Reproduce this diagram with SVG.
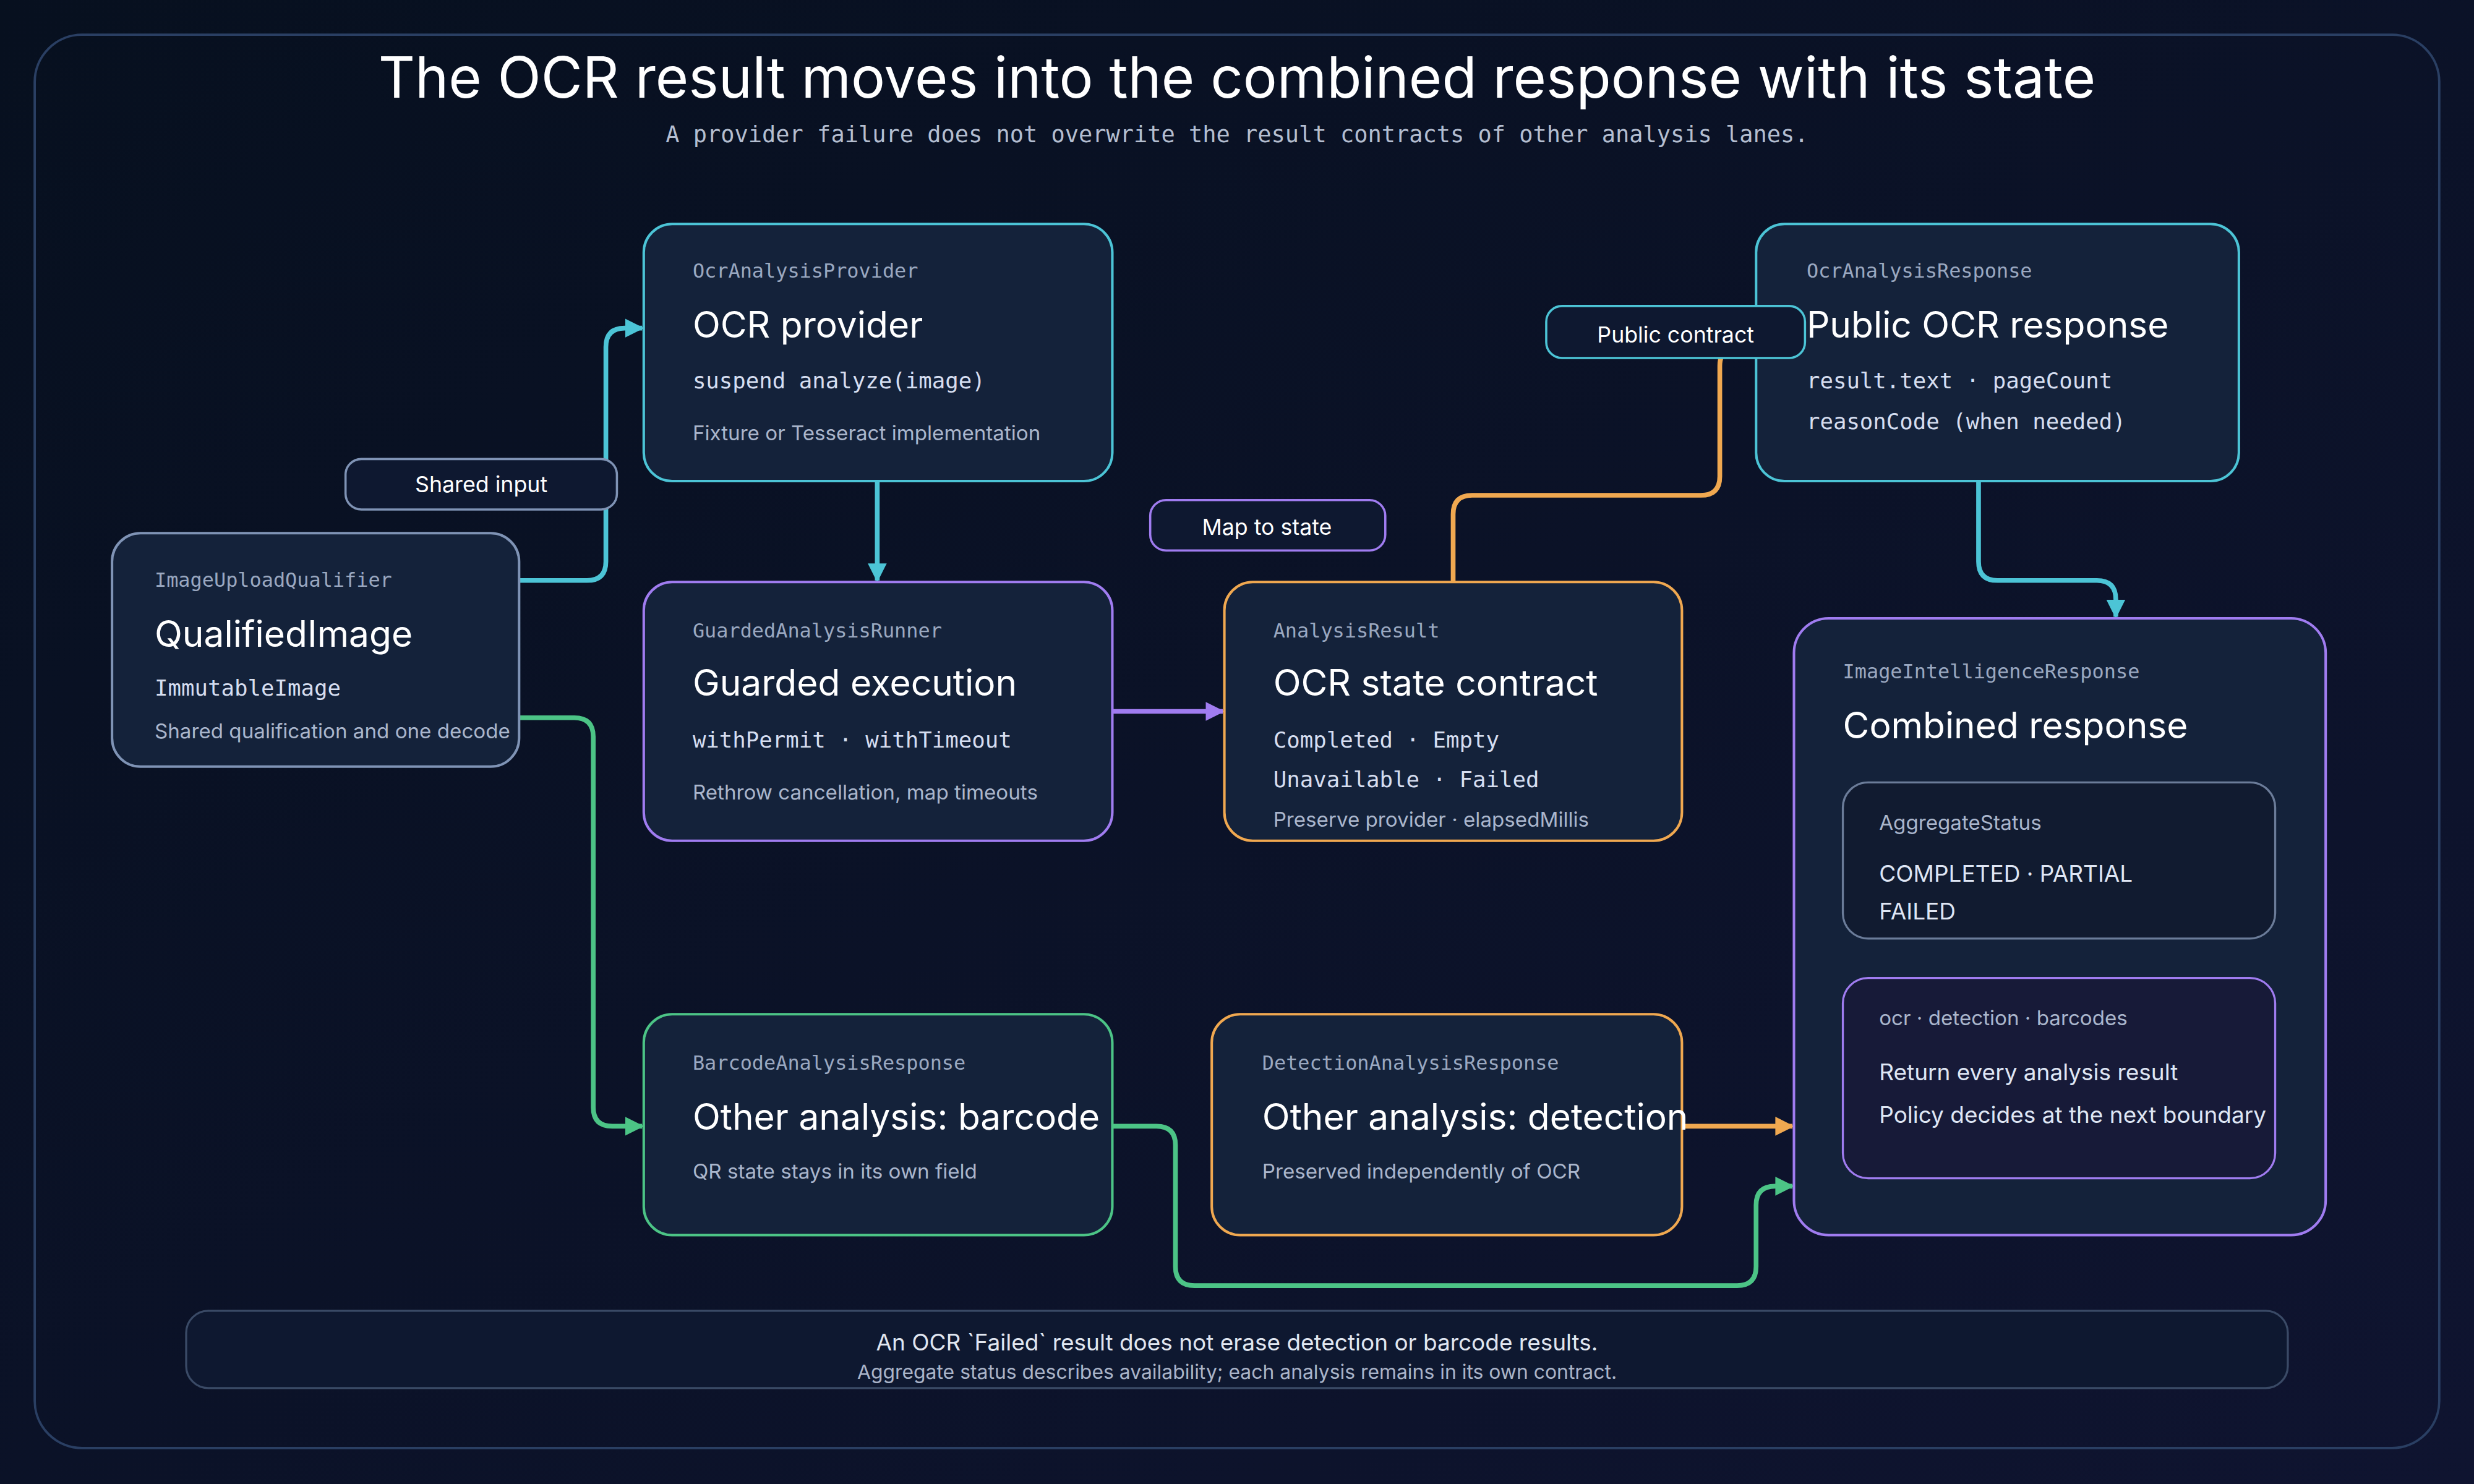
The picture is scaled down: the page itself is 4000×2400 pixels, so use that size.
<svg xmlns="http://www.w3.org/2000/svg" width="4000" height="2400" viewBox="0 0 4000 2400">
<defs>
<linearGradient id="bg" x1="0" y1="0" x2="1" y2="1"><stop offset="0" stop-color="#07101f"/><stop offset="1" stop-color="#0f1430"/></linearGradient>
<marker id="mc" viewBox="0 0 10 10" refX="9" refY="5" markerWidth="4" markerHeight="4" orient="auto"><path d="M0 0L10 5L0 10z" fill="#4cc4d6"/></marker>
<marker id="mp" viewBox="0 0 10 10" refX="9" refY="5" markerWidth="4" markerHeight="4" orient="auto"><path d="M0 0L10 5L0 10z" fill="#a07cf0"/></marker>
<marker id="mg" viewBox="0 0 10 10" refX="9" refY="5" markerWidth="4" markerHeight="4" orient="auto"><path d="M0 0L10 5L0 10z" fill="#4cc486"/></marker>
<marker id="mo" viewBox="0 0 10 10" refX="9" refY="5" markerWidth="4" markerHeight="4" orient="auto"><path d="M0 0L10 5L0 10z" fill="#f0a850"/></marker>
<style>
.node{fill:#14223a;stroke-width:1.6}
.cy{stroke:#4cc4d6}.pu{stroke:#a07cf0}.gr{stroke:#4cc486}.or{stroke:#f0a850}.gy{stroke:#7f93b5}
.lbl{font-family:"DejaVu Sans Mono","Liberation Mono",monospace;font-size:12.5px;fill:#9aa8c0}
.ttl{font-family:Inter,"Liberation Sans",sans-serif;font-size:23px;fill:#ffffff}
.mono{font-family:"DejaVu Sans Mono","Liberation Mono",monospace;font-size:14px;fill:#d6def0}
.sm{font-family:Inter,"Liberation Sans",sans-serif;font-size:13px;fill:#aab6cc}
.body{font-family:Inter,"Liberation Sans",sans-serif;font-size:14.5px;fill:#dfe6f4}
.pill{fill:#0e1830;stroke-width:1.4}
.pt{font-family:Inter,"Liberation Sans",sans-serif;font-size:14px;fill:#ffffff;text-anchor:middle}
.c{fill:none;stroke-width:3}
</style>
</defs>
<rect width="4000" height="2400" fill="url(#bg)"/>
<g transform="scale(2.551)">
<rect x="22" y="22" width="1524" height="896" rx="30" fill="none" stroke="#2a3f63" stroke-width="1.5"/>
<text x="784" y="62" text-anchor="middle" font-family="Inter,'Liberation Sans',sans-serif" font-size="36" fill="#ffffff">The OCR result moves into the combined response with its state</text>
<text x="784" y="90" text-anchor="middle" font-family="'DejaVu Sans Mono','Liberation Mono',monospace" font-size="14.5" fill="#b4bed0">A provider failure does not overwrite the result contracts of other analysis lanes.</text>

<g id="connectors">
<path class="c" stroke="#4cc4d6" marker-end="url(#mc)" d="M329 368H372Q384 368 384 356V220Q384 208 396 208H407"/>
<path class="c" stroke="#4cc4d6" marker-end="url(#mc)" d="M556 305V368"/>
<path class="c" stroke="#a07cf0" marker-end="url(#mp)" d="M705 451H775"/>
<path class="c" stroke="#4cc486" marker-end="url(#mg)" d="M329 455H364Q376 455 376 467V702Q376 714 388 714H407"/>
<path class="c" stroke="#f0a850" marker-end="url(#mo)" d="M921 369V326Q921 314 933 314H1078Q1090 314 1090 302V232Q1090 220 1102 220H1112"/>
<path class="c" stroke="#4cc4d6" marker-end="url(#mc)" d="M1254 305V356Q1254 368 1266 368H1329Q1341 368 1341 380V391"/>
<path class="c" stroke="#f0a850" marker-end="url(#mo)" d="M1066 714H1136"/>
<path class="c" stroke="#4cc486" marker-end="url(#mg)" d="M705 714H733Q745 714 745 726V803Q745 815 757 815H1101Q1113 815 1113 803V764Q1113 752 1125 752H1136"/>
</g>

<g id="qualifier">
<rect class="node gy" x="71" y="338" width="258" height="148" rx="18"/>
<text class="lbl" x="98" y="372">ImageUploadQualifier</text>
<text class="ttl" x="98" y="410">QualifiedImage</text>
<text class="mono" x="98" y="441">ImmutableImage</text>
<text class="sm" x="98" y="468">Shared qualification and one decode</text>
</g>
<g id="provider">
<rect class="node cy" x="408" y="142" width="297" height="163" rx="18"/>
<text class="lbl" x="439" y="176">OcrAnalysisProvider</text>
<text class="ttl" x="439" y="214">OCR provider</text>
<text class="mono" x="439" y="246">suspend analyze(image)</text>
<text class="sm" x="439" y="279">Fixture or Tesseract implementation</text>
</g>
<g id="guarded">
<rect class="node pu" x="408" y="369" width="297" height="164" rx="18"/>
<text class="lbl" x="439" y="404">GuardedAnalysisRunner</text>
<text class="ttl" x="439" y="441">Guarded execution</text>
<text class="mono" x="439" y="474">withPermit · withTimeout</text>
<text class="sm" x="439" y="507">Rethrow cancellation, map timeouts</text>
</g>
<g id="result">
<rect class="node or" x="776" y="369" width="290" height="164" rx="18"/>
<text class="lbl" x="807" y="404">AnalysisResult</text>
<text class="ttl" x="807" y="441">OCR state contract</text>
<text class="mono" x="807" y="474">Completed · Empty</text>
<text class="mono" x="807" y="499">Unavailable · Failed</text>
<text class="sm" x="807" y="524">Preserve provider · elapsedMillis</text>
</g>
<g id="ocrresponse">
<rect class="node cy" x="1113" y="142" width="306" height="163" rx="18"/>
<text class="lbl" x="1145" y="176">OcrAnalysisResponse</text>
<text class="ttl" x="1145" y="214">Public OCR response</text>
<text class="mono" x="1145" y="246">result.text · pageCount</text>
<text class="mono" x="1145" y="272">reasonCode (when needed)</text>
</g>
<g id="barcode">
<rect class="node gr" x="408" y="643" width="297" height="140" rx="18"/>
<text class="lbl" x="439" y="678">BarcodeAnalysisResponse</text>
<text class="ttl" x="439" y="716">Other analysis: barcode</text>
<text class="sm" x="439" y="747">QR state stays in its own field</text>
</g>
<g id="detection">
<rect class="node or" x="768" y="643" width="298" height="140" rx="18"/>
<text class="lbl" x="800" y="678">DetectionAnalysisResponse</text>
<text class="ttl" x="800" y="716">Other analysis: detection</text>
<text class="sm" x="800" y="747">Preserved independently of OCR</text>
</g>
<g id="combined">
<rect class="node pu" x="1137" y="392" width="337" height="391" rx="22"/>
<text class="lbl" x="1168" y="430">ImageIntelligenceResponse</text>
<text class="ttl" x="1168" y="468">Combined response</text>
<rect x="1168" y="496" width="274" height="99" rx="16" fill="#111b30" stroke="#6b7c99" stroke-width="1.3"/>
<text class="sm" x="1191" y="526">AggregateStatus</text>
<text class="body" x="1191" y="559">COMPLETED · PARTIAL</text>
<text class="body" x="1191" y="583">FAILED</text>
<rect x="1168" y="620" width="274" height="127" rx="16" fill="#171a38" stroke="#a07cf0" stroke-width="1.3"/>
<text class="sm" x="1191" y="650">ocr · detection · barcodes</text>
<text class="body" x="1191" y="685">Return every analysis result</text>
<text class="body" x="1191" y="712">Policy decides at the next boundary</text>
</g>
<g id="pills">
<rect class="pill gy" x="219" y="291" width="172" height="32" rx="10"/>
<text class="pt" x="305" y="312">Shared input</text>
<rect class="pill pu" x="729" y="317" width="149" height="32" rx="10"/>
<text class="pt" x="803" y="339">Map to state</text>
<rect class="pill cy" x="980" y="194" width="164" height="33" rx="10"/>
<text class="pt" x="1062" y="217">Public contract</text>
</g>
<g id="footer">
<rect x="118" y="831" width="1332" height="49" rx="14" fill="#0e1830" stroke="#3a4a66" stroke-width="1.3"/>
<text x="784" y="856" text-anchor="middle" font-family="Inter,'Liberation Sans',sans-serif" font-size="14.5" fill="#e0e6f0">An OCR `Failed` result does not erase detection or barcode results.</text>
<text x="784" y="874" text-anchor="middle" font-family="Inter,'Liberation Sans',sans-serif" font-size="12.5" fill="#aab4c8">Aggregate status describes availability; each analysis remains in its own contract.</text>
</g>
</g>
</svg>
